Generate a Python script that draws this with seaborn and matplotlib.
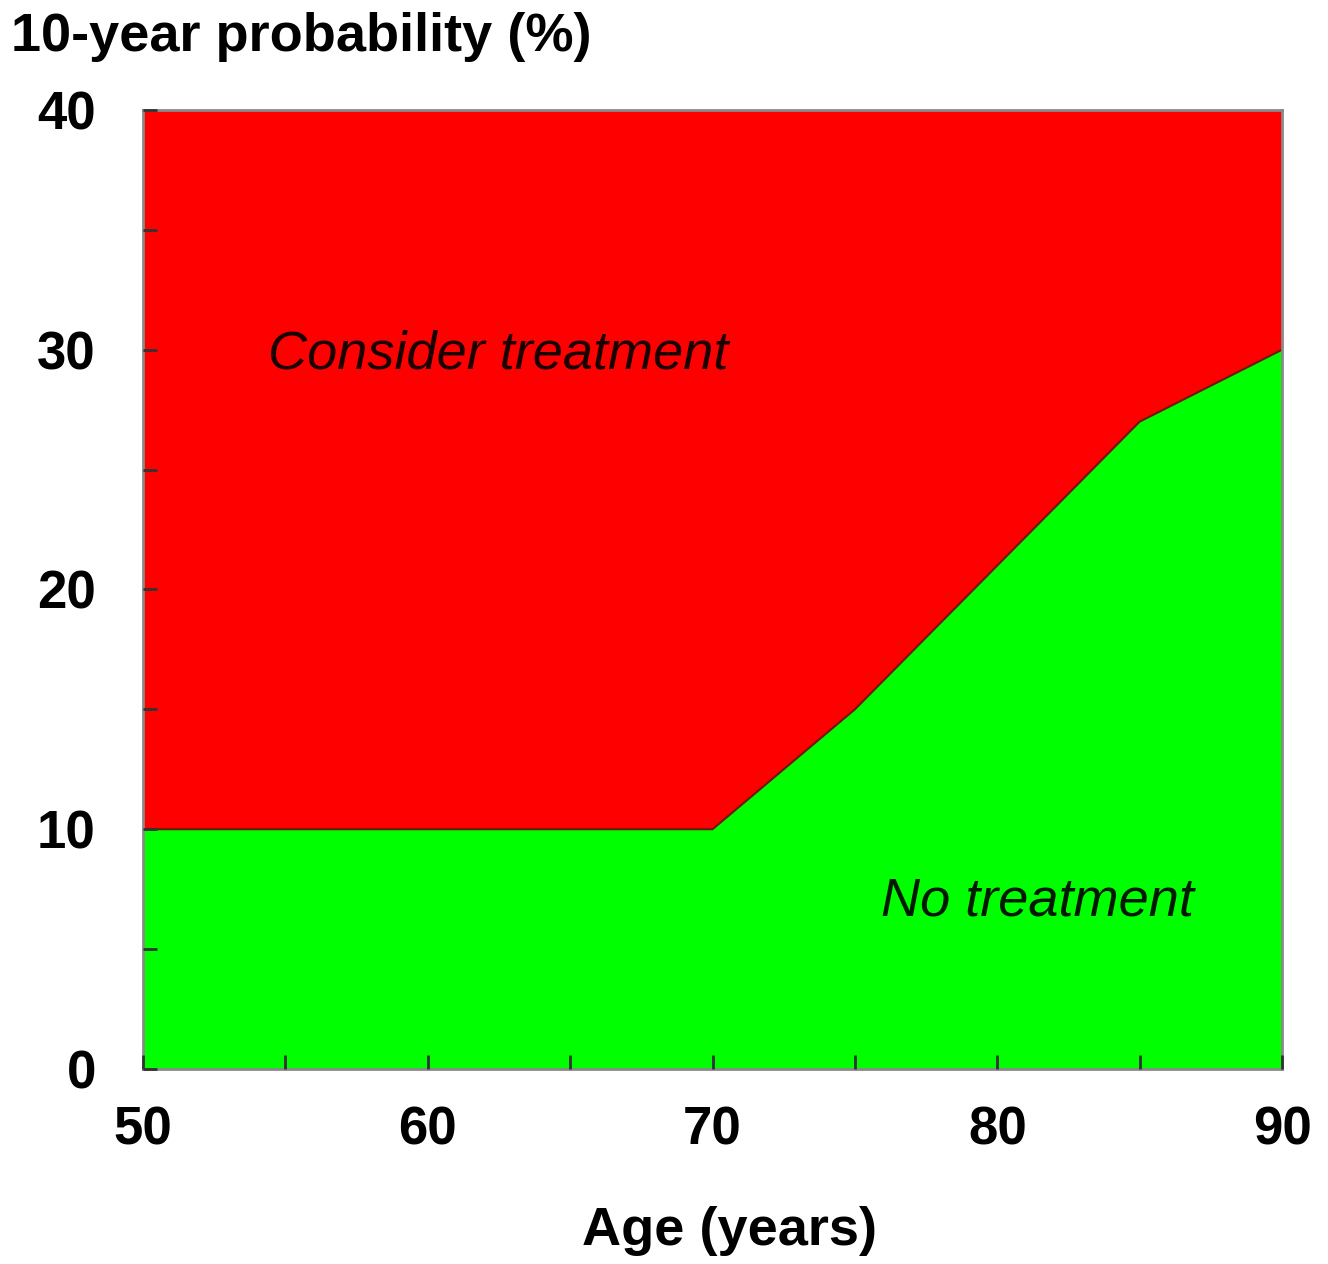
import matplotlib
matplotlib.use("Agg")
import matplotlib.pyplot as plt
from matplotlib.ticker import MultipleLocator
import pandas as pd
import seaborn as sns

# Threshold for treatment by age
ages = [50, 70, 75, 80, 85, 90]
threshold = [10, 10, 15, 21, 27, 30]

x_ticks = [50, 60, 70, 80, 90]
y_ticks = [0, 10, 20, 30, 40]

sns.set_style("white")
plt.rcParams["font.family"] = ["Liberation Sans", "DejaVu Sans"]
plt.rcParams["text.color"] = "black"

df = pd.DataFrame({"age": ages, "threshold": threshold})

fig = plt.figure(figsize=(13.28, 12.64), dpi=100)
ax = fig.add_axes([0.1077, 0.1543, 0.8577, 0.7587])

# regions
ax.fill_between(df["age"], df["threshold"], 40, color="#FF0000", linewidth=0)
ax.fill_between(df["age"], 0, df["threshold"], color="#00FF00", linewidth=0)
sns.lineplot(data=df, x="age", y="threshold", ax=ax, color="#6a1a00", linewidth=1.5)

ax.set_axisbelow(False)
ax.set_xlim(50, 90)
ax.set_ylim(0, 40)
ax.set_xticks(x_ticks)
ax.set_yticks(y_ticks)
ax.xaxis.set_minor_locator(MultipleLocator(5))
ax.yaxis.set_minor_locator(MultipleLocator(5))
ax.tick_params(which="both", bottom=True, left=True, direction="in",
               length=10, width=2, color="#333333")
ax.tick_params(axis="x", which="major", pad=26, labelsize=38, labelcolor="black")
ax.tick_params(axis="y", which="major", pad=34, labelsize=38, labelcolor="black")
for lab in ax.get_xticklabels() + ax.get_yticklabels():
    lab.set_fontweight("bold")

for s in ax.spines.values():
    s.set_color("#8a8a8a")
    s.set_linewidth(2)

ax.set_xlabel("Age (years)", fontsize=39, fontweight="bold", color="black")
ax.xaxis.set_label_coords(0.515, -0.143)
ax.set_ylabel("")
fig.text(0.008, 0.971, "10-year probability (%)", fontsize=39, fontweight="bold",
         ha="left", va="center")

ax.text(54.4, 29.8, "Consider treatment", fontsize=39, fontstyle="italic",
        ha="left", va="center", color="#1a0000")
ax.text(75.9, 7.0, "No treatment", fontsize=39, fontstyle="italic",
        ha="left", va="center", color="#001a00")

fig.savefig("out.png", dpi=100)
